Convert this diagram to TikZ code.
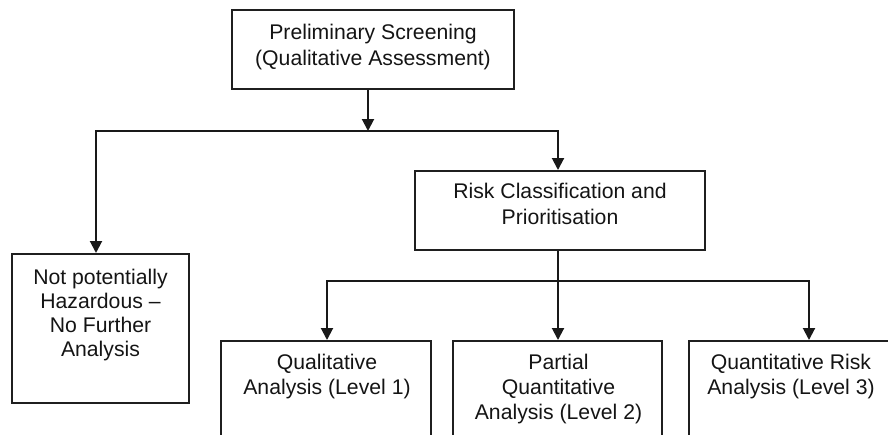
\documentclass[tikz,border=0pt]{standalone}
\usepackage{fontspec}
\setmainfont{Liberation Sans}
\usetikzlibrary{arrows.meta}
\tikzset{
  box/.style={draw=black!88, line width=2pt, inner sep=0pt, fill=none},
  txt/.style={font=\fontsize{21.2}{25}\selectfont, align=center, inner sep=0pt, anchor=north, text=black!92},
  arr/.style={draw=black!90, line width=2pt, -{Triangle[length=12pt,width=12pt]}},
  ln/.style={draw=black!90, line width=2pt}
}
\begin{document}
\begin{tikzpicture}[x=1pt,y=-1pt]
\useasboundingbox (0,0) rectangle (888,434);
\clip (0,0) rectangle (888,434);
% boxes
\node[box, minimum width=282pt, minimum height=79pt] (top) at (373,49.5) {};
\node[box, minimum width=177pt, minimum height=149pt] (haz) at (100.5,328.5) {};
\node[box, minimum width=290pt, minimum height=79pt] (risk) at (560,210.5) {};
\node[box, minimum width=210pt, minimum height=100pt] (qual) at (326,391) {};
\node[box, minimum width=209pt, minimum height=100pt] (part) at (557.5,391) {};
\node[box, minimum width=206pt, minimum height=100pt] (quant) at (792,391) {};
% texts
\node[txt, font=\fontsize{21.2}{26}\selectfont] (toptxt) at (373,24.4) {Preliminary Screening\\(Qualitative Assessment)};
\node[txt, font=\fontsize{21.2}{23.7}\selectfont] (haztxt) at (100.5,269.4) {Not potentially\\Hazardous --\\No Further\\Analysis};
\node[txt, font=\fontsize{21.2}{26}\selectfont] (risktxt) at (560,183.4) {Risk Classification and\\Prioritisation};
\node[txt] (qualtxt) at (327,354.4) {Qualitative\\Analysis (Level 1)};
\node[txt] (parttxt) at (558.5,354.4) {Partial\\Quantitative\\Analysis (Level 2)};
\node[txt] (quanttxt) at (791,354.4) {Quantitative Risk\\Analysis (Level 3)};
% junctions
\coordinate (jA) at (368,131);
\coordinate (jL) at (96,131);
\coordinate (jR) at (558,131);
\coordinate (kM) at (558,281);
\coordinate (kL) at (327,281);
\coordinate (kR) at (809,281);
% connectors
\draw[arr] (top.south -| jA) -- (jA);
\draw[arr] (jR) -- (jL) -- (jL |- haz.north);
\draw[arr] (jL) -- (jR) -- (jR |- risk.north);
\draw[arr] (risk.south -| kM) -- (kM |- part.north);
\draw[arr] (kR) -- (kL) -- (kL |- qual.north);
\draw[arr] (kL) -- (kR) -- (kR |- quant.north);
\end{tikzpicture}
\end{document}
